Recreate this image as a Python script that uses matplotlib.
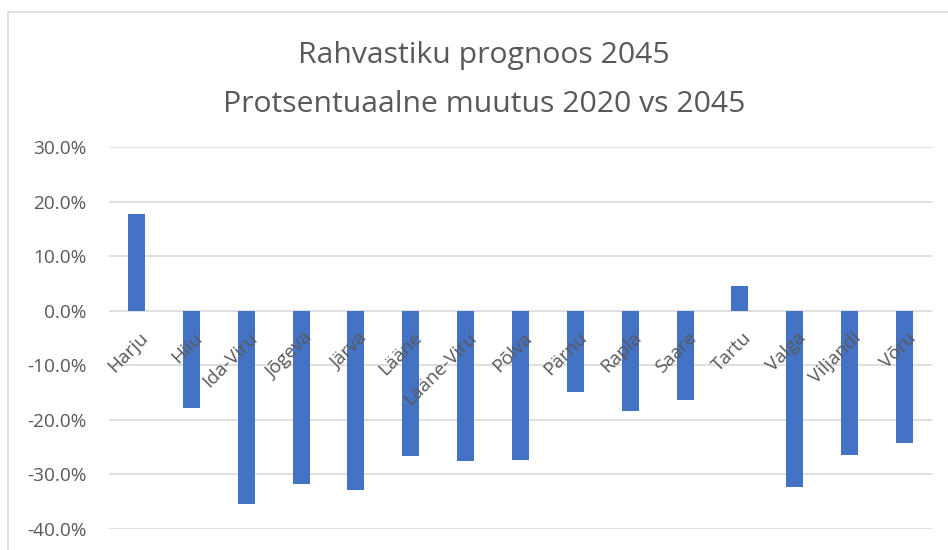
import matplotlib
matplotlib.use("Agg")
import matplotlib.pyplot as plt
import matplotlib.transforms as mtransforms
from matplotlib.patches import Rectangle
from matplotlib.ticker import FuncFormatter, MultipleLocator

categories = ["Harju", "Hiiu", "Ida-Viru", "Jõgeva", "Järva", "Lääne", "Lääne-Viru",
              "Põlva", "Pärnu", "Rapla", "Saare", "Tartu", "Valga", "Viljandi", "Võru"]
values = [17.8, -17.8, -35.5, -31.8, -32.8, -26.6, -27.5,
          -27.3, -14.9, -18.3, -16.3, 4.6, -32.3, -26.4, -24.2]
title_lines = ["Rahvastiku prognoos 2045", "Protsentuaalne muutus 2020 vs 2045"]

FONT = "Open Sans"
TXT = "#595959"
GRID = "#D9D9D9"
BAR = "#4472C4"

W, H = 948, 550
fig = plt.figure(figsize=(W / 100, H / 100), dpi=100)
fig.patch.set_facecolor("white")

# chart border (extends past right/bottom edge)
fig.add_artist(Rectangle((8 / W, -0.1), 1.2, (H - 12.5) / H + 0.1,
                         transform=fig.transFigure, fill=False,
                         edgecolor=GRID, linewidth=1.2))

ax = fig.add_axes([109 / W, (H - 529) / H, (932 - 109) / W, (529 - 147.3) / H])
x = list(range(len(categories)))
ax.bar(x, values, width=0.31, color=BAR, zorder=3)
ax.set_xlim(-0.5, len(categories) - 0.5)
ax.set_ylim(-40, 30)
ax.yaxis.set_major_locator(MultipleLocator(10))
ax.yaxis.set_major_formatter(FuncFormatter(lambda v, p: f"{v:.1f}%"))
ax.grid(axis="y", color=GRID, linewidth=1.2, zorder=0)
ax.set_axisbelow(True)
for s in ax.spines.values():
    s.set_visible(False)
ax.tick_params(axis="y", length=0, pad=16, labelsize=13.7, labelcolor=TXT)
ax.tick_params(axis="x", length=0, labelbottom=False)
for lab in ax.get_yticklabels():
    lab.set_fontfamily(FONT)

offs = mtransforms.offset_copy(ax.transData, fig=fig, x=1.5, y=-13, units="points")
for xi, name in zip(x, categories):
    ax.text(xi, 0, name, transform=offs, rotation=45, ha="right", va="top",
            rotation_mode="anchor", fontsize=13.7, color=TXT, fontfamily=FONT, zorder=4)

fig.text(484 / W, 1 - 63 / H, title_lines[0], ha="center", va="baseline",
         fontsize=21.7, color=TXT, fontfamily=FONT)
fig.text(484 / W, 1 - 112 / H, title_lines[1], ha="center", va="baseline",
         fontsize=21.7, color=TXT, fontfamily=FONT)

fig.savefig("out.png", dpi=100)
